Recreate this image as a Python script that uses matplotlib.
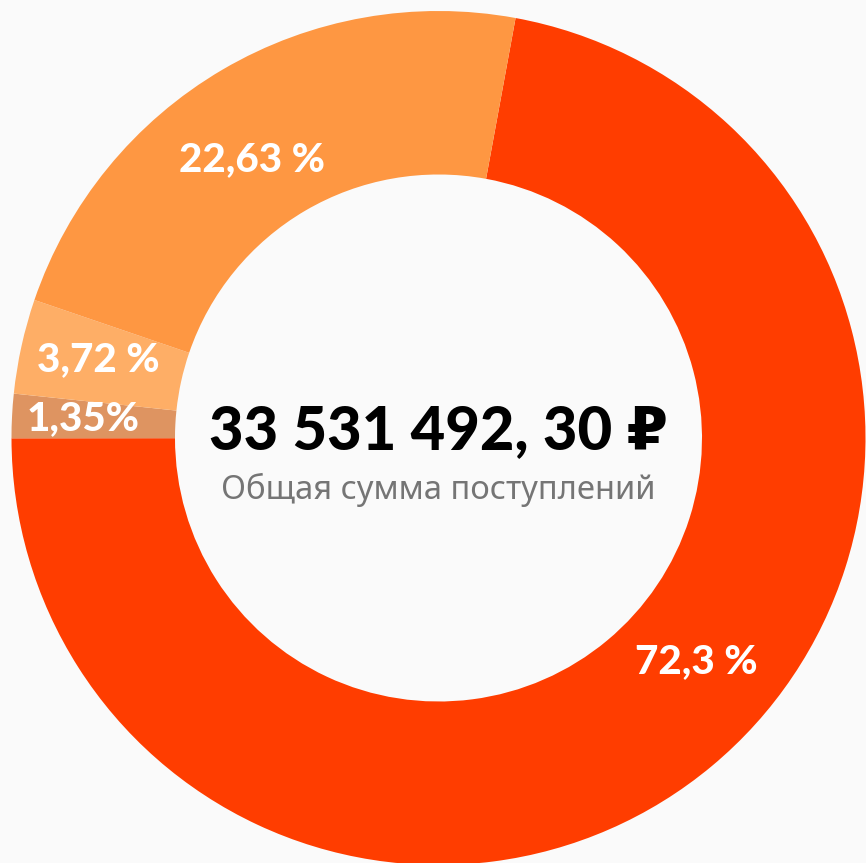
import matplotlib.pyplot as plt
import numpy as np

# доли поступлений, по часовой стрелке от верха
shares = [72.3, 1.35, 3.72, 22.63]
# arc sizes as they are drawn in the reference (small slice is widened there)
arc_shares = [72.1, 1.67, 3.58, 22.65]
labels = ["72,3 %", "1,35%", "3,72 %", "22,63 %"]
colors = ["#FF3D00", "#DE9461", "#FEAE66", "#FE9742"]
total_text = "33 531 492, 30 \u20bd"
subtitle = "Общая сумма поступлений"

start = 10.4  # degrees clockwise from 12 o'clock
# label placement tweaks (deg shift from mid-angle, radius as part of outer R)
label_shift = [-9.3, 0.1, 0.5, -3.5]
label_r = [0.80, 0.834, 0.818, 0.784]

W, H = 866, 863
cx, cy, R = 438.5, 438, 427
fig = plt.figure(figsize=(W / 100, H / 100), dpi=100, facecolor="#FAFAFA")
ax = fig.add_axes([(cx - R) / W, (H - cy - R) / H, 2 * R / W, 2 * R / H])
ax.set_facecolor("#FAFAFA")

ax.pie(arc_shares, colors=colors, startangle=90 - start, counterclock=False,
       radius=1.0, wedgeprops=dict(width=1 - 263.5 / 427, linewidth=0))

cum = np.cumsum([0] + arc_shares[:-1])
for s, c, lab, sh, r in zip(arc_shares, cum, labels, label_shift, label_r):
    ang = np.radians(start + (c + s / 2) * 3.6 + sh)
    ax.text(r * np.sin(ang), r * np.cos(ang), lab,
            ha="center", va="center", color="white", fontsize=29,
            fontweight=900, family=["Lato", "DejaVu Sans"])

ax.text(0, 0.016, total_text, ha="center", va="center", color="black",
        fontsize=43, fontweight=900, family=["Lato", "DejaVu Sans"])
ax.text(0, -0.122, subtitle, ha="center", va="center", color="#757575",
        fontsize=23.6, family=["Noto Sans", "DejaVu Sans"])

ax.set_xlim(-1, 1)
ax.set_ylim(-1, 1)
ax.set_aspect("auto")
ax.axis("off")

fig.savefig("out.png", dpi=100, facecolor=fig.get_facecolor())
